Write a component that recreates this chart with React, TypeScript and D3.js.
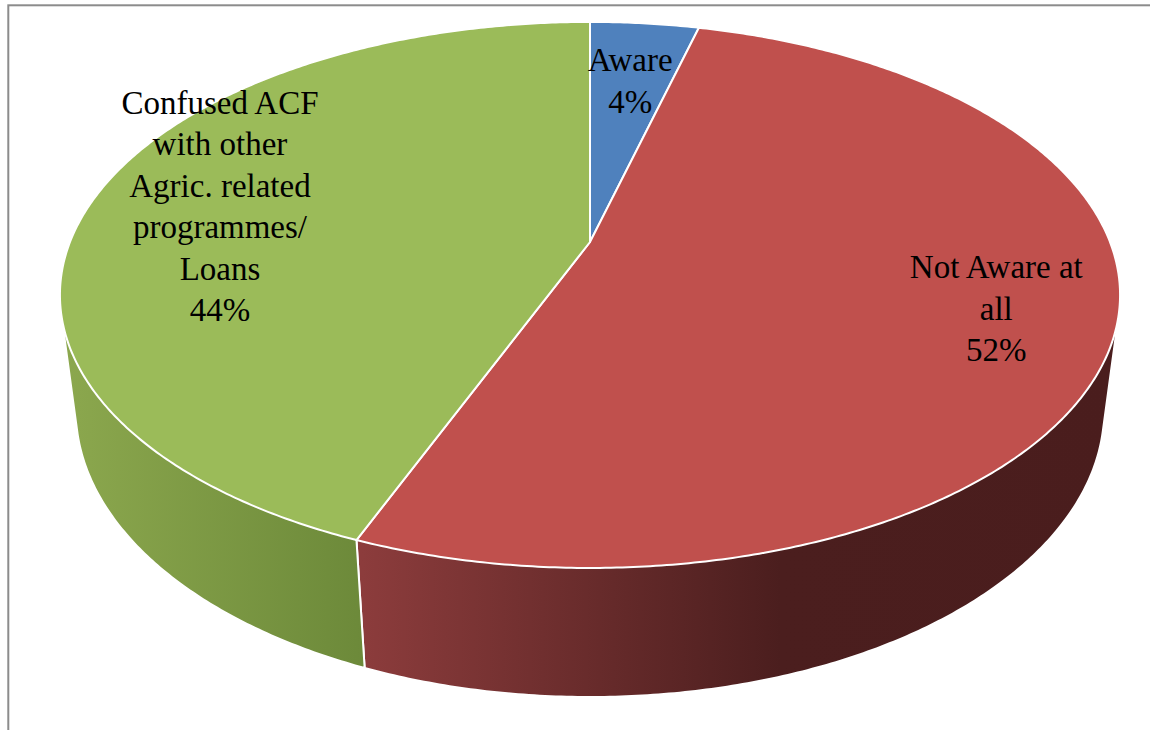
import React from 'react';
import * as d3 from 'd3';

// ---- data ----
const categories: string[] = ['Aware', 'Not Aware at all', 'Confused ACF with other Agric. related programmes/ Loans'];
const values: number[] = [4, 52, 44];
const categoryLines: string[][] = [
  ['Aware'],
  ['Not Aware at', 'all'],
  ['Confused ACF', 'with other', 'Agric. related', 'programmes/', 'Loans'],
];

// ---- style / layout ----
const W = 1150;
const H = 730;
const topColors = ['#4f81bd', '#c0504d', '#9bbb59'];
const wallStops: [number, string][][] = [
  [[0, '#4a78ae'], [0.28, '#3d6492'], [0.68, '#26405e'], [1, '#243c58']],
  [[0, '#a84646'], [0.285, '#8c3c3c'], [0.68, '#4b1e1e'], [1, '#4a1d1d']],
  [[0, '#8ca84e'], [0.28, '#6d8a3a'], [0.68, '#4a5e27'], [1, '#465924']],
];
const labelRadius = [0.7, 0.783, 0.744];
const CX = 590;
const CY = 242;
const F = 2314;
const DIST = 4.45;
const SIN = 0.5053;
const COS = Math.sqrt(1 - SIN * SIN);
const THICK = 0.262;
const LINE_H = 41.5;
const FONT = 33;

function project(X: number, Y: number, Z: number): [number, number] {
  const dc = DIST + Z * COS - Y * SIN;
  const yc = Y * COS + Z * SIN;
  return [CX + (F * X) / dc, CY - (F * yc) / dc];
}

function arcPoints(a0: number, a1: number, r: number, Y: number): [number, number][] {
  const n = Math.max(2, Math.ceil(((a1 - a0) * 180) / Math.PI / 0.5));
  const pts: [number, number][] = [];
  for (let i = 0; i <= n; i++) {
    const a = a0 + ((a1 - a0) * i) / n;
    pts.push(project(r * Math.sin(a), Y, r * Math.cos(a)));
  }
  return pts;
}

export default function App() {
  const arcs = d3.pie<number>().sort(null).value((d) => d)(values);
  const line = d3.line();
  const lo = Math.PI / 3;
  const hi = (5 * Math.PI) / 3;

  const walls = arcs.map((a, i) => {
    const a0 = Math.max(a.startAngle, lo);
    const a1 = Math.min(a.endAngle, hi);
    if (a1 <= a0) return null;
    const pts = [...arcPoints(a0, a1, 1, 0), ...arcPoints(a0, a1, 1, -THICK)];
    const hull = d3.polygonHull(pts);
    if (!hull) return null;
    return (
      <path
        key={'w' + i}
        d={(line(hull) || '') + 'Z'}
        fill={`url(#wall${i})`}
        stroke="#ffffff"
        strokeWidth={2}
        strokeLinejoin="round"
      />
    );
  });

  const tops = arcs.map((a, i) => {
    const pts: [number, number][] = [project(0, 0, 0), ...arcPoints(a.startAngle, a.endAngle, 1, 0)];
    return (
      <path
        key={'t' + i}
        d={(line(pts) || '') + 'Z'}
        fill={topColors[i]}
        stroke="#ffffff"
        strokeWidth={2}
        strokeLinejoin="round"
      />
    );
  });

  const labels = arcs.map((a, i) => {
    const mid = (a.startAngle + a.endAngle) / 2;
    const r = labelRadius[i];
    const [x, y] = project(r * Math.sin(mid), 0, r * Math.cos(mid));
    const lines = [...categoryLines[i], `${values[i]}%`];
    const n = lines.length;
    const b0 = y - ((n - 1) * LINE_H) / 2 + 11;
    return (
      <text
        key={'l' + i}
        textAnchor="middle"
        fontFamily="'Liberation Serif', 'Times New Roman', serif"
        fontSize={FONT}
        fill="#000000"
      >
        {lines.map((t, j) => (
          <tspan key={j} x={x} y={b0 + j * LINE_H}>
            {t}
          </tspan>
        ))}
      </text>
    );
  });

  return (
    <div style={{ position: 'absolute', left: 0, top: 0 }}>
      <svg width={W} height={H} viewBox={`0 0 ${W} ${H}`} style={{ display: 'block', background: '#ffffff' }}>
        <title>{categories.join(', ')}</title>
        <defs>
          {wallStops.map((stops, i) => (
            <linearGradient key={i} id={`wall${i}`} gradientUnits="userSpaceOnUse" x1={60} y1={0} x2={1120} y2={0}>
              {stops.map(([o, c], j) => (
                <stop key={j} offset={o} stopColor={c} />
              ))}
            </linearGradient>
          ))}
        </defs>
        <g>{walls}</g>
        <g>{tops}</g>
        <g>{labels}</g>
        <rect x={8.3} y={5.3} width={1160} height={760} fill="none" stroke="#8c8c8c" strokeWidth={2} />
      </svg>
    </div>
  );
}
